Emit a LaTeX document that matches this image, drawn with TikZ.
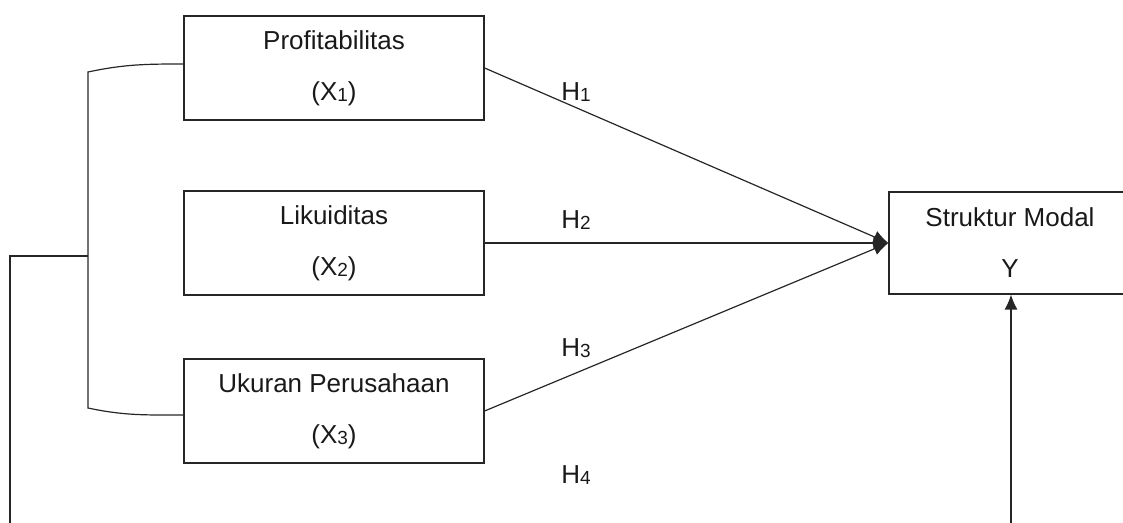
\documentclass[tikz,border=0pt]{standalone}
\usepackage{fontspec}
\setmainfont{Liberation Sans}
\usetikzlibrary{arrows.meta}
\newcommand{\idx}[1]{\raisebox{-0.6pt}{\fontsize{9.5}{0}\selectfont #1}}

\begin{document}
\begin{tikzpicture}
  [x=0.5pt,y=-0.5pt,line width=0.6pt,draw=black!85,
   every node/.style={font=\fontsize{13}{25.5}\selectfont,text=black!90},
   var/.style={rectangle,draw,align=center,inner sep=0pt,
     minimum width=150pt,minimum height=52pt},
   link/.style={-{Latex[length=7.5pt,width=6.5pt]}}]
  \useasboundingbox (0,0) rectangle (1123,523);
  \clip (0,0) rectangle (1123,523);
  \node[var] (X1) at (334,68)  {Profitabilitas\\(X\idx{1})};
  \node[var] (X2) at (334,243) {Likuiditas\\(X\idx{2})};
  \node[var] (X3) at (334,411) {Ukuran Perusahaan\\(X\idx{3})};
  \node[var,minimum width=121pt,minimum height=51pt] (Y) at (1010,243) {Struktur Modal\\Y};
  % hypothesis labels
  \node (H1) at (576,92)  {H\idx{1}};
  \node (H2) at (576,220) {H\idx{2}};
  \node (H3) at (576,348) {H\idx{3}};
  \node (H4) at (576,475) {H\idx{4}};
  % bracket joining the three variables
  \coordinate (bt) at (88,72);
  \coordinate (bm) at (88,256);
  \coordinate (bb) at (88,408);
  \coordinate (lt) at (10,256);
  \coordinate (lb) at (10,540);
  \coordinate (yin) at (1011,540);

  \foreach \from in {X1,X2,X3}
    \draw[link] (\from.east) -- (Y.west);
  \draw ([yshift=2pt]X1.west) to[out=180,in=12] (bt) -- (bb)
    to[out=-12,in=180] ([yshift=-2pt]X3.west);
  \draw (bm) -- (lt) -- (lb);
  \draw[link] (yin) -- (yin |- Y.south);

\end{tikzpicture}
\end{document}
